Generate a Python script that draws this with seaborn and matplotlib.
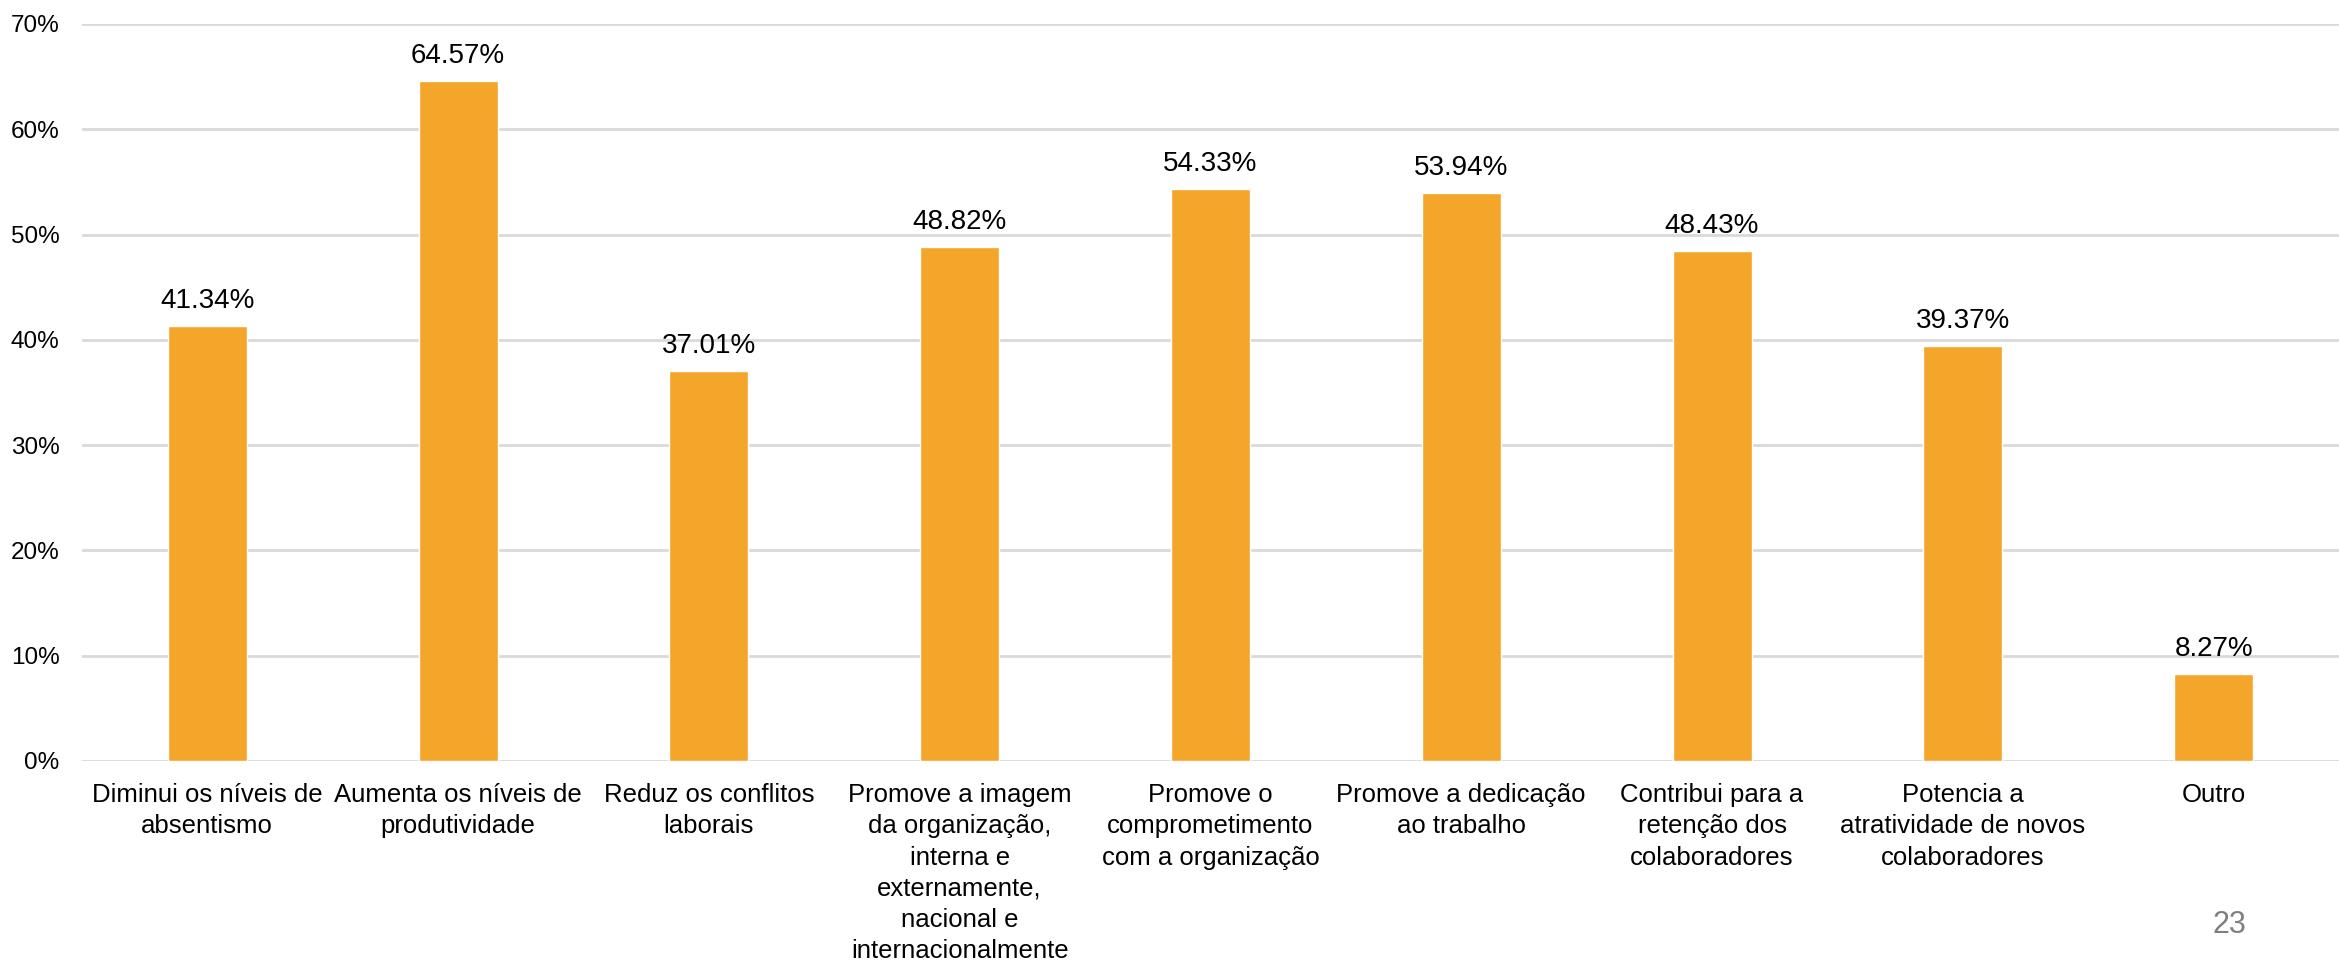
import matplotlib
matplotlib.use("Agg")
import matplotlib.pyplot as plt
import seaborn as sns
from matplotlib.ticker import FuncFormatter, MultipleLocator

# Data
categories = [
    "Diminui os níveis de\nabsentismo",
    "Aumenta os níveis de\nprodutividade",
    "Reduz os conflitos\nlaborais",
    "Promove a imagem\nda organização,\ninterna e\nexternamente,\nnacional e\ninternacionalmente",
    "Promove o\ncomprometimento\ncom a organização",
    "Promove a dedicação\nao trabalho",
    "Contribui para a\nretenção dos\ncolaboradores",
    "Potencia a\natratividade de novos\ncolaboradores",
    "Outro",
]
values = [41.34, 64.57, 37.01, 48.82, 54.33, 53.94, 48.43, 39.37, 8.27]
value_labels = ["41.34%", "64.57%", "37.01%", "48.82%", "54.33%", "53.94%", "48.43%", "39.37%", "8.27%"]
page_number = "23"

sns.set_style("white")
plt.rcParams["font.family"] = ["Liberation Sans", "DejaVu Sans"]

fig = plt.figure(figsize=(23.39, 9.69), dpi=100)
ax = fig.add_axes([0.035, 0.2147, 0.965, 0.7606])

sns.barplot(x=categories, y=values, color="#F4A62A", saturation=1, width=0.315, ax=ax)

# Data labels above the bars
for i, (v, lab) in enumerate(zip(values, value_labels)):
    ax.annotate(lab, (i, v), xytext=(0, 13), textcoords="offset points",
                ha="center", va="baseline", fontsize=20, color="black")

ax.set_ylim(0, 70)
ax.yaxis.set_major_locator(MultipleLocator(10))
ax.yaxis.set_major_formatter(FuncFormatter(lambda y, _: f"{y:.0f}%"))
ax.grid(axis="y", color="#D9D9D9", linewidth=2)
ax.set_axisbelow(True)
ax.set_xlim(-0.5, len(categories) - 0.5)

for s in ax.spines.values():
    s.set_visible(False)

ax.tick_params(axis="y", length=0, labelsize=17.5, pad=16, labelcolor="black")
ax.tick_params(axis="x", length=0, labelsize=18.5, pad=16, labelcolor="black")
for t in ax.get_xticklabels():
    t.set_linespacing(1.38)
    t.set_verticalalignment("top")
ax.set_xlabel("")
ax.set_ylabel("")

# Slide page number
fig.text(0.953, 0.045, page_number, ha="center", va="center", fontsize=22, color="#7F7F7F")

fig.savefig("out.png", dpi=100)
